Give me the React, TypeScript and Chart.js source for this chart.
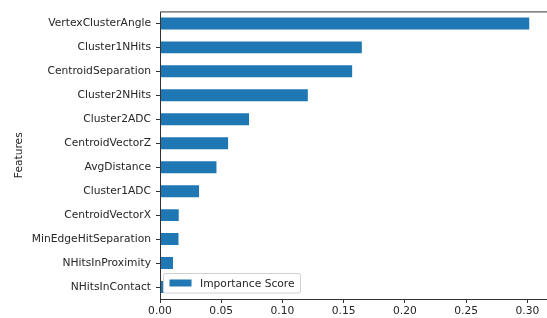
import React, { useEffect, useRef } from "react";
import { Chart, registerables } from "chart.js";

Chart.register(...registerables);

const features = [
  "VertexClusterAngle",
  "Cluster1NHits",
  "CentroidSeparation",
  "Cluster2NHits",
  "Cluster2ADC",
  "CentroidVectorZ",
  "AvgDistance",
  "Cluster1ADC",
  "CentroidVectorX",
  "MinEdgeHitSeparation",
  "NHitsInProximity",
  "NHitsInContact",
];
const importance = [0.3015, 0.1648, 0.1569, 0.1207, 0.0727, 0.0556, 0.0461, 0.0319, 0.0153, 0.0151, 0.0106, 0.003];
const xTicks = [0, 0.05, 0.1, 0.15, 0.2, 0.25, 0.3];
const seriesLabel = "Importance Score";
const axisTitle = "Features";

const FONT = "'DejaVu Sans', sans-serif";
const FS = 10.7;
const TEXT = "#262626";
const BLUE = "#1f77b4";

const framePlugin = {
  id: "frame",
  afterDraw(chart: any) {
    const { ctx, chartArea } = chart;
    const { left, top, right, bottom } = chartArea;
    ctx.save();
    ctx.strokeStyle = "#333";
    ctx.lineWidth = 1;
    ctx.beginPath();
    ctx.moveTo(left + 0.5, bottom + 0.5);
    ctx.lineTo(left + 0.5, top + 0.5);
    ctx.lineTo(right + 2, top + 0.5);
    ctx.moveTo(left + 0.5, bottom + 0.5);
    ctx.lineTo(right + 2, bottom + 0.5);
    ctx.stroke();

    // legend (lower left, inside plot)
    const bx = left + 3.5;
    const by = bottom - 25.5;
    const bw = 137;
    const bh = 19.5;
    ctx.fillStyle = "rgba(255,255,255,0.8)";
    ctx.strokeStyle = "#d0d0d0";
    ctx.beginPath();
    const r = 2;
    ctx.moveTo(bx + r, by);
    ctx.lineTo(bx + bw - r, by);
    ctx.quadraticCurveTo(bx + bw, by, bx + bw, by + r);
    ctx.lineTo(bx + bw, by + bh - r);
    ctx.quadraticCurveTo(bx + bw, by + bh, bx + bw - r, by + bh);
    ctx.lineTo(bx + r, by + bh);
    ctx.quadraticCurveTo(bx, by + bh, bx, by + bh - r);
    ctx.lineTo(bx, by + r);
    ctx.quadraticCurveTo(bx, by, bx + r, by);
    ctx.closePath();
    ctx.fill();
    ctx.stroke();
    ctx.fillStyle = BLUE;
    ctx.fillRect(bx + 6, by + 6, 22, 7);
    ctx.fillStyle = TEXT;
    ctx.font = `${FS}px ${FONT}`;
    ctx.textBaseline = "middle";
    ctx.textAlign = "left";
    ctx.fillText(seriesLabel, bx + 36.5, by + bh / 2 + 0.5);
    ctx.restore();
  },
};

export default function App() {
  const ref = useRef<HTMLCanvasElement>(null);
  useEffect(() => {
    if (!ref.current) return;
    const chart = new Chart(ref.current, {
      type: "bar",
      data: {
        labels: features,
        datasets: [
          {
            label: seriesLabel,
            data: importance,
            backgroundColor: BLUE,
            borderWidth: 0,
            categoryPercentage: 1,
            barPercentage: 0.5,
          },
        ],
      },
      options: {
        indexAxis: "y",
        animation: false,
        responsive: false,
        maintainAspectRatio: false,
        layout: { padding: { top: 10, left: 0, right: 0, bottom: 0 } },
        plugins: { legend: { display: false }, tooltip: { enabled: false } },
        scales: {
          x: {
            type: "linear",
            min: 0,
            max: 0.316,
            afterBuildTicks: (scale: any) => {
              scale.ticks = xTicks.map((v) => ({ value: v }));
            },
            afterFit: (scale: any) => {
              scale.height = 19;
            },
            grid: {
              drawOnChartArea: false,
              drawTicks: true,
              tickLength: 4,
              color: "#333",
            },
            border: { display: false },
            ticks: {
              color: TEXT,
              font: { family: FONT, size: FS },
              padding: 2,
              maxRotation: 0,
              autoSkip: false,
              callback: (v: any) => Number(v).toFixed(2),
            },
          },
          y: {
            type: "category",
            offset: true,
            afterFit: (scale: any) => {
              scale.width = 160;
            },
            grid: {
              drawOnChartArea: false,
              drawTicks: true,
              tickLength: 4,
              color: "#333",
              offset: false,
            },
            border: { display: false },
            ticks: {
              color: TEXT,
              font: { family: FONT, size: FS },
              padding: 5,
              autoSkip: false,
            },
            title: {
              display: true,
              text: axisTitle,
              color: TEXT,
              font: { family: FONT, size: FS },
              padding: { top: 13, bottom: 0 },
            },
          },
        },
      },
      plugins: [framePlugin],
    });
    return () => chart.destroy();
  }, []);
  return (
    <div style={{ position: "fixed", left: 0, top: 0, width: 547, height: 318, background: "#fff" }}>
      <canvas ref={ref} width={547} height={318} style={{ width: 547, height: 318 }} />
    </div>
  );
}
